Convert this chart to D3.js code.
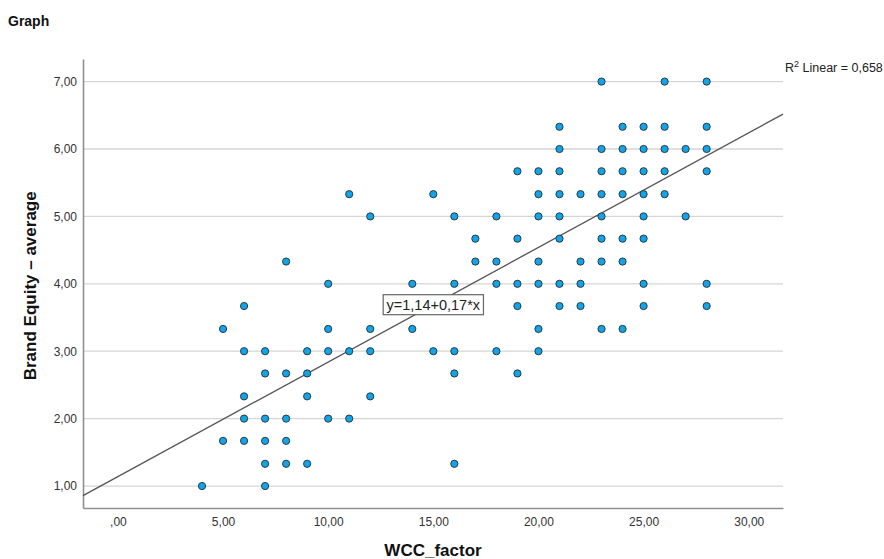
<!DOCTYPE html>
<html lang="en">
<head>
<meta charset="utf-8">
<title>Graph</title>
<script src="https://d3js.org/d3.v7.min.js"></script>
<style>
  body { margin: 0; background: #fff; }
  text { font-family: "Liberation Sans", Arial, sans-serif; }
</style>
</head>
<body>
<div id="chart"></div>
<script>
// WCC_factor (x) and Brand Equity - average (y), one entry per respondent
const wccFactor = [
  4,
  5, 5,
  6, 6, 6, 6, 6,
  7, 7, 7, 7, 7, 7,
  8, 8, 8, 8, 8,
  9, 9, 9, 9,
  10, 10, 10, 10,
  11, 11, 11,
  12, 12, 12, 12,
  14, 14,
  15, 15,
  16, 16, 16, 16, 16,
  17, 17,
  18, 18, 18, 18,
  19, 19, 19, 19, 19,
  20, 20, 20, 20, 20, 20, 20,
  21, 21, 21, 21, 21, 21, 21, 21,
  22, 22, 22, 22,
  23, 23, 23, 23, 23, 23, 23, 23,
  24, 24, 24, 24, 24, 24, 24,
  25, 25, 25, 25, 25, 25, 25, 25,
  26, 26, 26, 26, 26,
  27, 27,
  28, 28, 28, 28, 28, 28
];
const brandEquity = [
  1.00,
  3.33, 1.67,
  3.67, 3.00, 2.33, 2.00, 1.67,
  3.00, 2.67, 2.00, 1.67, 1.33, 1.00,
  4.33, 2.67, 2.00, 1.67, 1.33,
  3.00, 2.67, 2.33, 1.33,
  4.00, 3.33, 3.00, 2.00,
  5.33, 3.00, 2.00,
  5.00, 3.33, 3.00, 2.33,
  4.00, 3.33,
  5.33, 3.00,
  5.00, 4.00, 3.00, 2.67, 1.33,
  4.67, 4.33,
  5.00, 4.33, 4.00, 3.00,
  5.67, 4.67, 4.00, 3.67, 2.67,
  5.67, 5.33, 5.00, 4.33, 4.00, 3.33, 3.00,
  6.33, 6.00, 5.67, 5.33, 5.00, 4.67, 4.00, 3.67,
  5.33, 4.33, 4.00, 3.67,
  7.00, 6.00, 5.67, 5.33, 5.00, 4.67, 4.33, 3.33,
  6.33, 6.00, 5.67, 5.33, 4.67, 4.33, 3.33,
  6.33, 6.00, 5.67, 5.33, 5.00, 4.67, 4.00, 3.67,
  7.00, 6.33, 6.00, 5.67, 5.33,
  6.00, 5.00,
  7.00, 6.33, 6.00, 5.67, 4.00, 3.67
];
const xTicks = [0, 5, 10, 15, 20, 25, 30];
const yTicks = [1, 2, 3, 4, 5, 6, 7];
const fitIntercept = 1.14;
const fitSlope = 0.17;
const rSquared = 0.658;

const width = 884, height = 559;
const margin = {top: 59, right: 101, bottom: 51, left: 83};

// SPSS style numbers: comma decimal, no leading zero for 0
const fmt = v => {
  let s = d3.format(".2f")(v).replace(".", ",");
  return s.startsWith("0,") ? s.slice(1) : s;
};
const fmt3 = v => d3.format(".3f")(v).replace(".", ",");

const svg = d3.select("#chart").append("svg")
  .attr("width", width)
  .attr("height", height);

const x = d3.scaleLinear().domain([-1.66, 31.63]).range([margin.left, width - margin.right]);
const y = d3.scaleLinear().domain([0.674, 7.335]).range([height - margin.bottom, margin.top]);

svg.append("text")
  .attr("x", 8).attr("y", 26)
  .attr("font-size", 14).attr("font-weight", "bold")
  .attr("fill", "#111")
  .text("Graph");

// gridlines
svg.append("g")
  .selectAll("line")
  .data(yTicks)
  .join("line")
  .attr("x1", x.range()[0]).attr("x2", x.range()[1])
  .attr("y1", d => y(d)).attr("y2", d => y(d))
  .attr("stroke", "#d6d6d6").attr("stroke-width", 1.3);

// axes
const xAxis = svg.append("g")
  .attr("transform", `translate(0,${height - margin.bottom})`)
  .call(d3.axisBottom(x).tickValues(xTicks).tickFormat(fmt).tickSize(0).tickPadding(9));
const yAxis = svg.append("g")
  .attr("transform", `translate(${margin.left},0)`)
  .call(d3.axisLeft(y).tickValues(yTicks).tickFormat(fmt).tickSize(0).tickPadding(6));

[xAxis, yAxis].forEach(a => {
  a.select(".domain").attr("stroke", "#8f8f8f").attr("stroke-width", 1.6);
  a.selectAll("text")
    .attr("font-family", "Liberation Sans, Arial, sans-serif")
    .attr("font-size", 12).attr("fill", "#333");
});

// axis titles
svg.append("text")
  .attr("x", 433).attr("y", 556)
  .attr("text-anchor", "middle")
  .attr("font-size", 17).attr("font-weight", "bold")
  .attr("fill", "#111")
  .text("WCC_factor");

svg.append("text")
  .attr("transform", `translate(36,${(y(1) + y(7)) / 2 + 2}) rotate(-90)`)
  .attr("text-anchor", "middle")
  .attr("font-size", 17).attr("font-weight", "bold")
  .attr("fill", "#111")
  .text("Brand Equity \u2013 average");

// fit line
const fitLine = d3.line()
  .x(d => x(d))
  .y(d => y(fitIntercept + fitSlope * d));
svg.append("path")
  .attr("d", fitLine(x.domain()))
  .attr("fill", "none")
  .attr("stroke", "#555")
  .attr("stroke-width", 1.3);

// points
svg.append("g")
  .selectAll("circle")
  .data(d3.range(wccFactor.length))
  .join("circle")
  .attr("cx", i => x(wccFactor[i]))
  .attr("cy", i => y(brandEquity[i]))
  .attr("r", 3.6)
  .attr("fill", "#10a5e8")
  .attr("stroke", "#2a3a44")
  .attr("stroke-width", 1);

// equation label
const eq = svg.append("g")
  .attr("transform", `translate(${x(15.0)},${y(3.69)})`);
const eqText = eq.append("text")
  .attr("text-anchor", "middle")
  .attr("dy", "0.35em")
  .attr("font-size", 14.5)
  .attr("fill", "#222")
  .text(`y=${fitIntercept.toFixed(2).replace(".", ",")}+${fitSlope.toFixed(2).replace(".", ",")}*x`);
const bb = eqText.node().getBBox();
eq.insert("rect", "text")
  .attr("x", -bb.width / 2 - 3).attr("y", -10)
  .attr("width", bb.width + 6).attr("height", 20)
  .attr("fill", "#fff")
  .attr("stroke", "#666").attr("stroke-width", 1.2);

// R² label
const r2 = svg.append("text")
  .attr("x", 785).attr("y", 72)
  .attr("font-size", 12.5).attr("fill", "#222");
r2.append("tspan").text("R");
r2.append("tspan").attr("dy", -5).attr("font-size", 9).text("2");
r2.append("tspan").attr("dy", 5).text(` Linear = ${fmt3(rSquared)}`);
</script>
</body>
</html>
